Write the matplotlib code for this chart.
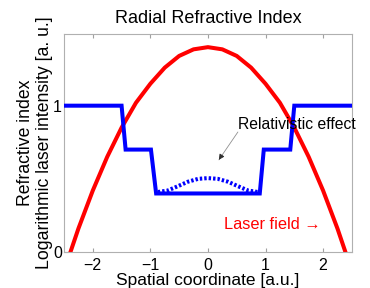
from matplotlib import pyplot as plt

plt.rcParams.update({'font.family': ['Liberation Sans', 'DejaVu Sans'], 'font.size': 10})

# refractive index profile (step-like)
step_x = [-2.5, -1.5, -1.43, -0.99, -0.9, 0.9, 0.97, 1.43, 1.5, 2.5]
step_y = [1.0, 1.0, 0.7, 0.7, 0.4, 0.4, 0.7, 0.7, 1.0, 1.0]

# relativistic bump (dotted)
bump_x = [-0.87, -0.7, -0.52, -0.35, -0.17, 0.0, 0.17, 0.35, 0.52, 0.7, 0.87]
bump_y = [0.41, 0.42, 0.45, 0.48, 0.50, 0.505, 0.50, 0.48, 0.45, 0.42, 0.41]

# laser field (log intensity), read every 0.25 a.u.
laser_x = [-2.5, -2.25, -2.0, -1.75, -1.5, -1.25, -1.0, -0.75, -0.5, -0.25, 0.0,
           0.25, 0.5, 0.75, 1.0, 1.25, 1.5, 1.75, 2.0, 2.25, 2.5]
laser_y = [-0.13, 0.16, 0.42, 0.65, 0.85, 1.02, 1.15, 1.26, 1.34, 1.385, 1.40,
           1.385, 1.34, 1.26, 1.15, 1.02, 0.85, 0.65, 0.42, 0.16, -0.13]

xticks = [-2, -1, 0, 1, 2]
yticks = [0, 1]

fig = plt.figure(figsize=(3.7, 2.88), dpi=100)
ax = fig.add_axes([0.173, 0.125, 0.778, 0.757])

ax.plot(laser_x, laser_y, color='#ff0000', linewidth=2.9, zorder=2)
ax.plot(step_x, step_y, color='#0000ff', linewidth=2.9, solid_joinstyle='miter', zorder=3)
ax.plot(bump_x, bump_y, color='#0000ff', linewidth=2.9, linestyle=(0, (0.6, 0.5)), zorder=3)

# thin grey shaft, dark head
ax.annotate('', xy=(0.19, 0.63), xytext=(0.52, 0.82),
            arrowprops=dict(arrowstyle='-', color='#909090', lw=0.6,
                            shrinkA=0, shrinkB=0))
ax.annotate('', xy=(0.19, 0.63), xytext=(0.24, 0.66),
            arrowprops=dict(arrowstyle='-|>', color='#303030', lw=0.6,
                            mutation_scale=8, shrinkA=0, shrinkB=0))
ax.text(0.52, 0.87, 'Relativistic effect', fontsize=11.3, va='center', ha='left')
ax.text(0.28, 0.19, 'Laser field \u2192', color='#ff0000', fontsize=11.8, va='center', ha='left')

ax.set_xlim(-2.5, 2.5)
ax.set_ylim(0, 1.49)
ax.set_xticks(xticks)
ax.set_yticks(yticks)
ax.tick_params(direction='in', top=True, right=True, length=3, color='#a0a0a0',
               labelsize=11.5)
ax.tick_params(axis='x', pad=4)
ax.tick_params(axis='y', pad=1.5)
for s in ax.spines.values():
    s.set_color('#b0b0b0')
    s.set_linewidth(0.8)

ax.set_title('Radial Refractive Index', fontsize=13, pad=8)
ax.set_xlabel('Spatial coordinate [a.u.]', fontsize=12.5, labelpad=0)
ax.set_ylabel('Refractive index\nLogarithmic laser intensity [a. u.]', fontsize=12.7,
              labelpad=0, linespacing=1.15)

plt.savefig('out.png', dpi=100)
